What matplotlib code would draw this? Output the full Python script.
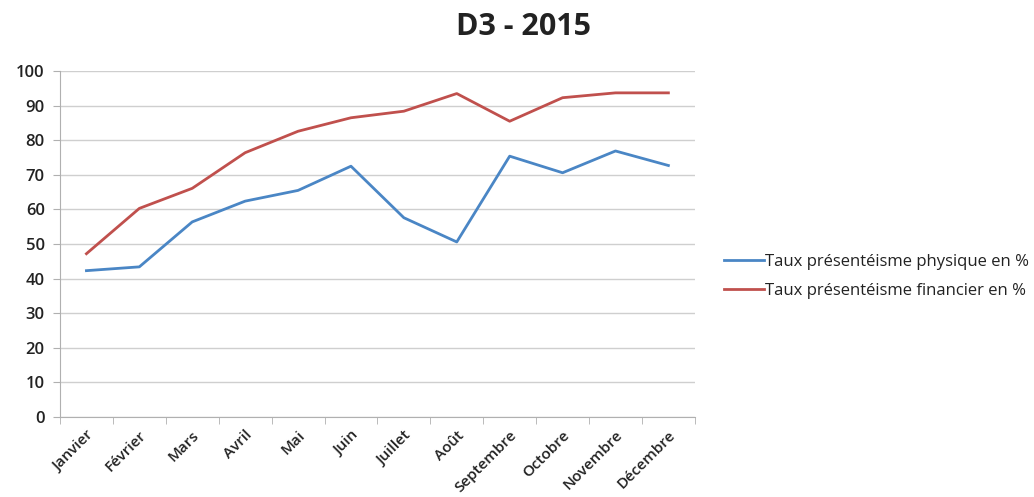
import matplotlib.pyplot as plt
import numpy as np

plt.rcParams['font.family'] = ['Open Sans', 'DejaVu Sans']

mois = ['Janvier', 'Février', 'Mars', 'Avril', 'Mai', 'Juin', 'Juillet',
        'Août', 'Septembre', 'Octobre', 'Novembre', 'Décembre']
physique = [42.3, 43.4, 56.4, 62.4, 65.5, 72.5, 57.6, 50.6, 75.4, 70.6, 76.9, 72.7]
financier = [47.2, 60.3, 66.1, 76.4, 82.6, 86.5, 88.4, 93.5, 85.5, 92.3, 93.7, 93.7]

fig = plt.figure(figsize=(10.34, 4.97), dpi=100)
ax = fig.add_axes([0.058, 0.161, 0.614, 0.696])

x = np.arange(len(mois))
ax.plot(x, physique, color='#4a86c5', lw=2.0, label='Taux présentéisme physique en %')
ax.plot(x, financier, color='#c0504d', lw=2.0, label='Taux présentéisme financier en %')

ax.set_xlim(-0.5, len(mois) - 0.5)
ax.set_ylim(0, 100)
ax.set_yticks(range(0, 101, 10))
ax.set_xticks(x)
ax.set_xticklabels(mois, rotation=45, ha='right', rotation_mode='anchor',
                   fontsize=11, fontweight='semibold', color='#222222')
ax.set_xticks(np.arange(-0.5, len(mois), 1), minor=True)
ax.tick_params(axis='x', which='major', length=0, pad=8)
ax.tick_params(axis='x', which='minor', length=5, color='#b0b0b0')
ax.tick_params(axis='y', length=5, color='#b0b0b0', labelsize=12, pad=6)
for lab in ax.get_yticklabels():
    lab.set_fontweight('semibold')
    lab.set_color('#222222')

ax.grid(axis='y', color='#cfcfcf', lw=1)
ax.set_axisbelow(True)
for s in ['top', 'right']:
    ax.spines[s].set_visible(False)
for s in ['left', 'bottom']:
    ax.spines[s].set_color('#b0b0b0')

fig.text(0.506, 0.945, 'D3 - 2015', ha='center', va='center', fontsize=22,
         fontweight='bold', color='#222222')

leg = fig.legend(loc='center left', bbox_to_anchor=(0.700, 0.444), frameon=False,
                 fontsize=12, handlelength=2.4, handletextpad=0.05, labelspacing=0.75,
                 borderpad=0, borderaxespad=0)
for t in leg.get_texts():
    t.set_color('#222222')

fig.savefig('out.png', dpi=100)
